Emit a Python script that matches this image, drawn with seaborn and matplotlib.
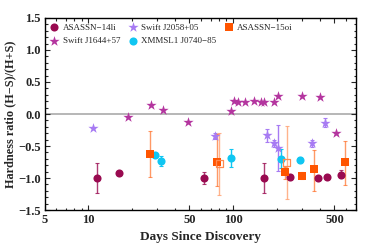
import numpy as np
import pandas as pd
import matplotlib
matplotlib.use("Agg")
import matplotlib.pyplot as plt
from matplotlib.ticker import MultipleLocator, FixedLocator, NullFormatter
import seaborn as sns

sns.set_style("ticks")
plt.rcParams['font.family'] = ['Liberation Serif', 'DejaVu Serif']

# ASASSN-14li
li_days = [11.6, 16.4, 63.4, 162.6, 246, 383, 447, 555]
li_hr = [-1.00, -0.92, -1.00, -1.00, -0.99, -1.00, -0.98, -0.95]
li_lo = [0.23, 0.03, 0.09, 0.23, 0.04, 0.03, 0.03, 0.05]
li_hi = [0.23, 0.03, 0.10, 0.23, 0.04, 0.03, 0.03, 0.07]

# Swift J1644+57
j1644_days = [18.9, 27.0, 32.7, 48.6, 96.4, 102, 108.7, 121.5, 138.8, 155, 163, 190, 203, 299, 398, 510]
j1644_hr = [-0.05, 0.135, 0.06, -0.125, 0.04, 0.20, 0.18, 0.18, 0.21, 0.18, 0.18, 0.18, 0.28, 0.28, 0.26, -0.30]

# Swift J2058+05
j2058_days = [10.8, 75.3, 170.6, 190, 205, 351, 431]
j2058_hr = [-0.225, -0.34, -0.33, -0.46, -0.53, -0.46, -0.135]
j2058_err = [0.0, 0.05, 0.10, 0.05, 0.36, 0.05, 0.07]

# XMMSL1 J0740-85
xmm_days = [29, 31.7, 96.4, 215, 288]
xmm_hr = [-0.635, -0.73, -0.68, -0.70, -0.72]
xmm_err = [0.03, 0.08, 0.14, 0.15, 0.05]

# ASASSN-15oi (filled)
oi_days = [26.7, 77, 227, 297, 360, 594]
oi_hr = [-0.62, -0.755, -0.90, -0.96, -0.865, -0.75]
oi_lo = [0.37, 0.37, 0.12, 0.06, 0.33, 0.36]
oi_hi = [0.35, 0.45, 0.07, 0.05, 0.31, 0.33]
# ASASSN-15oi (open)
oio_days = [80.4, 234]
oio_hr = [-0.77, -0.76]
oio_lo = [0.50, 0.56]
oio_hi = [0.48, 0.57]

c_li = '#990a50'
c_1644 = '#b4359f'
c_2058 = '#a77bf3'
c_xmm = '#10c6f2'
c_oi = '#ff5500'

fig = plt.figure(figsize=(3.74, 2.46), dpi=100)
ax = fig.add_axes([0.119, 0.146, 0.833, 0.781])

ax.axhline(0, color='#aaaaaa', lw=1.2, zorder=0)

# error bars
eb = dict(fmt='none', elinewidth=1.0, capsize=1.5, capthick=0.8)
ax.errorbar(li_days, li_hr, yerr=[li_lo, li_hi], ecolor=c_li, alpha=0.8, **eb)
ax.errorbar(j2058_days, j2058_hr, yerr=j2058_err, ecolor=c_2058, **eb)
ax.errorbar(xmm_days, xmm_hr, yerr=xmm_err, ecolor=c_xmm, **eb)
ax.errorbar(oi_days, oi_hr, yerr=[oi_lo, oi_hi], ecolor=c_oi, alpha=0.6, **eb)
ax.errorbar(oio_days, oio_hr, yerr=[oio_lo, oio_hi], ecolor='#ffa070', alpha=0.8, **eb)

kw = dict(ax=ax, linewidth=0, legend=False, zorder=3)
sns.scatterplot(x=li_days, y=li_hr, color=c_li, marker='o', s=34, label='ASASSN\u221214li', **kw)
sns.scatterplot(x=j1644_days, y=j1644_hr, color=c_1644, marker='*', s=60, label='Swift J1644+57', **kw)
sns.scatterplot(x=j2058_days, y=j2058_hr, color=c_2058, marker='*', s=60, label='Swift J2058+05', **kw)
sns.scatterplot(x=xmm_days, y=xmm_hr, color=c_xmm, marker='o', s=34, label='XMMSL1 J0740\u221285', **kw)
sns.scatterplot(x=oi_days, y=oi_hr, color=c_oi, marker='s', s=26, label='ASASSN\u221215oi', **kw)
ax.scatter(oio_days, oio_hr, marker='s', s=26, facecolors='none', edgecolors='#ff8a50', linewidths=0.9, zorder=3)

ax.set_xscale('log')
ax.set_xlim(5, 705)
ax.set_ylim(-1.5, 1.5)
ax.xaxis.set_major_locator(FixedLocator([5, 10, 50, 100, 500]))
ax.set_xticklabels(['5', '10', '50', '100', '500'])
ax.xaxis.set_minor_locator(FixedLocator([6, 7, 8, 9, 20, 30, 40, 60, 70, 80, 90, 200, 300, 400, 600, 700]))
ax.xaxis.set_minor_formatter(NullFormatter())
ax.yaxis.set_major_locator(MultipleLocator(0.5))
ax.yaxis.set_minor_locator(MultipleLocator(0.1))
ax.set_yticklabels([f'{v:.1f}'.replace('-', '\u2212') for v in ax.get_yticks()])
ax.tick_params(which='both', direction='in', top=True, right=True, labelsize=9, width=0.8, pad=2.5)
ax.tick_params(which='major', length=3.5)
ax.tick_params(which='minor', length=1.8)
for lab in ax.get_xticklabels() + ax.get_yticklabels():
    lab.set_fontweight('bold')
for s in ax.spines.values():
    s.set_linewidth(1.0)
    s.set_color('black')

ax.set_xlabel('Days Since Discovery', fontsize=9.5, fontweight='bold', labelpad=4)
ax.set_ylabel('Hardness ratio (H\u2212S)/(H+S)', fontsize=8.8, fontweight='bold', labelpad=1.5)

h, l = ax.get_legend_handles_labels()
order = [l.index(n) for n in ['ASASSN\u221214li', 'Swift J1644+57', 'Swift J2058+05',
                              'XMMSL1 J0740\u221285', 'ASASSN\u221215oi']]
ax.legend([h[i] for i in order], [l[i] for i in order], ncol=3, loc='upper left',
          frameon=False, fontsize=6.5, handletextpad=0.4, columnspacing=0.9,
          borderaxespad=0.2, labelspacing=0.55, handlelength=1.0)

fig.savefig('out.png', dpi=100)
